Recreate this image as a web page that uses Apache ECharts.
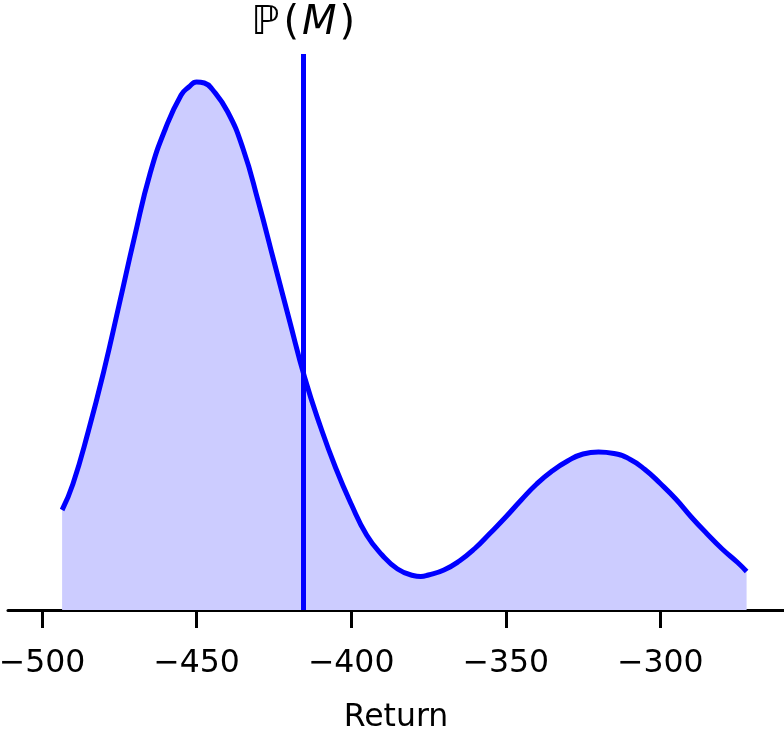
<!DOCTYPE html>
<html>
<head>
<meta charset="utf-8">
<script src="https://cdn.jsdelivr.net/npm/echarts@6/dist/echarts.min.js"></script>
<style>
  html, body { margin: 0; padding: 0; background: #fff; }
  #chart { width: 784px; height: 739px; }
</style>
</head>
<body>
<div id="chart"></div>
<script>
// return values (x) and the estimated density at each of them
var returns = [
    -493.5, -490, -485, -480, -475, -470, -465, -460, -455, -452.5,
    -450, -447.5, -445, -440, -435, -430, -425, -420, -415, -410,
    -405, -400, -395, -390, -385, -380, -377.5, -375, -370, -365,
    -360, -355, -350, -345, -340, -335, -330, -325, -320, -315,
    -310, -305, -300, -295, -290, -285, -280, -275, -272.1
];
var density = [
    0.00200, 0.00252, 0.00358, 0.00478, 0.00612, 0.00748, 0.00874, 0.00964, 0.01030, 0.01046,
    0.01056, 0.01054, 0.01042, 0.00997, 0.00923, 0.00816, 0.00698, 0.00580, 0.00464, 0.00368,
    0.00284, 0.00212, 0.00150, 0.00110, 0.00082, 0.00069, 0.00067, 0.00070, 0.00080, 0.00098,
    0.00123, 0.00154, 0.00186, 0.00220, 0.00252, 0.00278, 0.00298, 0.00312, 0.00316, 0.00313,
    0.00302, 0.00281, 0.00253, 0.00222, 0.00186, 0.00153, 0.00122, 0.00095, 0.00077
];
var tickValues = [-500, -450, -400, -350, -300];
var markValue = -415.5;   // P(M)

var chartDom = document.getElementById('chart');
var myChart = echarts.init(chartDom);

var pts = returns.map(function (x, i) {
    return [x, density[i]];
});

var option = {
    animation: false,
    grid: {
        left: 8,
        right: 0,
        top: 54,
        bottom: 129,
        containLabel: false,
        outerBoundsMode: 'none'
    },
    xAxis: {
        type: 'value',
        min: -511,
        max: -260,
        name: 'Return',
        nameLocation: 'middle',
        nameGap: 92,
        nameTextStyle: {
            fontFamily: 'DejaVu Sans',
            fontSize: 31.5,
            color: '#000'
        },
        axisLine: {
            show: true,
            onZero: false,
            lineStyle: {color: '#000', width: 3}
        },
        axisTick: {
            show: true,
            length: 18,
            customValues: tickValues,
            lineStyle: {color: '#000', width: 3}
        },
        axisLabel: {
            margin: 38,
            customValues: tickValues,
            fontFamily: 'DejaVu Sans',
            fontSize: 31.5,
            color: '#000',
            formatter: function (v) {
                return String(v).replace('-', '\u2212');
            }
        },
        splitLine: {show: false}
    },
    yAxis: {
        type: 'value',
        min: 0,
        max: 0.01112,
        show: false,
        splitLine: {show: false}
    },
    series: [
        {
            type: 'line',
            data: pts,
            smooth: 0.5,
            showSymbol: false,
            lineStyle: {color: '#0000ff', width: 5},
            areaStyle: {color: '#ccccff', opacity: 1},
            z: 3,
            markLine: {
                silent: true,
                symbol: 'none',
                lineStyle: {color: '#0000ff', width: 5, type: 'solid'},
                label: {
                    show: true,
                    position: 'end',
                    distance: 10,
                    formatter: '{p|\u2119}{t|(}{m|M}{t|)}',
                    rich: {
                        p: {fontFamily: 'DejaVu Sans', fontSize: 40, fontStyle: 'italic', color: '#000', padding: [0, 4, 0, 0]},
                        t: {fontFamily: 'DejaVu Sans', fontSize: 40, color: '#000'},
                        m: {fontFamily: 'DejaVu Sans', fontSize: 40, fontStyle: 'italic', color: '#000', padding: [0, 3, 0, 3]}
                    }
                },
                data: [{xAxis: markValue}]
            }
        }
    ]
};
myChart.setOption(option);
</script>
</body>
</html>
